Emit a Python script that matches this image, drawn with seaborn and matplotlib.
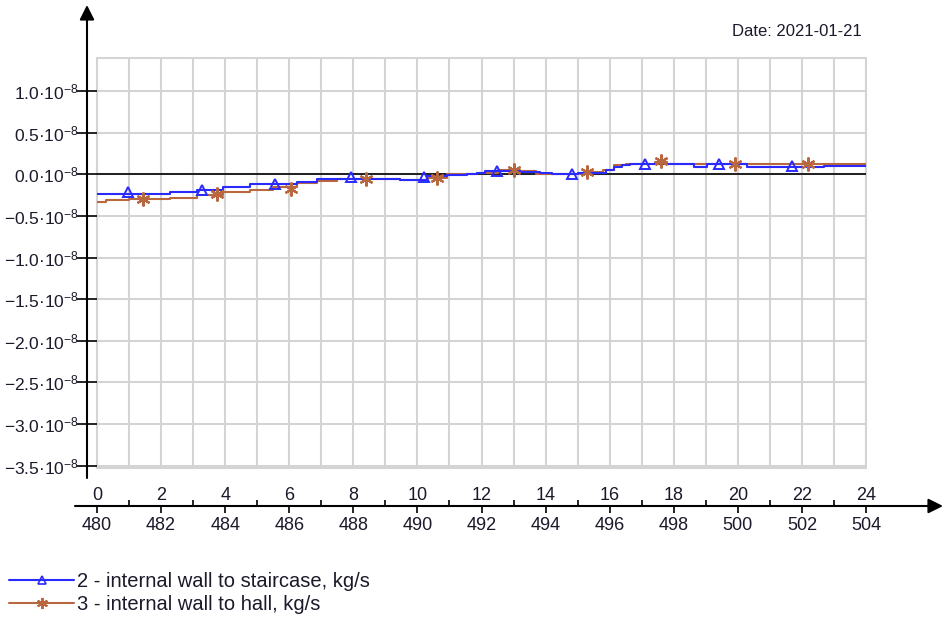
import numpy as np
import pandas as pd
import matplotlib
matplotlib.use("Agg")
import matplotlib.pyplot as plt
import seaborn as sns
from matplotlib.lines import Line2D
from matplotlib.patches import Rectangle
import matplotlib.transforms as mtransforms

# ---------------- data (values in units of 1e-8 kg/s) ----------------
start_hour = 480
hour_ticks = list(range(0, 25, 2))
y_ticks = [-3.5, -3.0, -2.5, -2.0, -1.5, -1.0, -0.5, 0.0, 0.5, 1.0]

stair_hours = [0, 2.28, 3.11, 3.94, 4.78, 5.5, 6.23, 6.86, 9.46, 10.29, 10.91,
               11.54, 11.85, 12.1, 13.2, 13.83, 14.2, 15.0, 15.9, 16.12, 16.4,
               16.64, 18.62, 19.04, 20.29, 22.68, 24]
stair_vals = [-0.24, -0.21, -0.19, -0.15, -0.12, -0.11, -0.09, -0.06, -0.07, -0.02, -0.01,
              0.0, 0.02, 0.04, 0.035, 0.02, 0.01, 0.02, 0.05, 0.09, 0.11,
              0.12, 0.09, 0.12, 0.09, 0.10, 0.10]
stair_mark_hours = [0.98, 3.28, 5.57, 7.93, 10.2, 12.47, 14.81, 17.1, 19.4, 21.7]
stair_mark_vals = [-0.21, -0.19, -0.12, -0.03, -0.03, 0.04, 0.01, 0.12, 0.12, 0.10]

hall_hours = [0, 0.27, 1.0, 2.28, 3.11, 3.94, 4.78, 5.5, 6.23, 6.86, 7.5, 9.46,
              10.29, 10.91, 11.85, 12.5, 13.2, 13.7, 15.39, 15.8, 16.12, 16.5,
              17.4, 17.8, 22.68, 24]
hall_vals = [-0.33, -0.31, -0.30, -0.28, -0.25, -0.21, -0.19, -0.15, -0.10, -0.08, -0.06, -0.07,
             -0.04, 0.0, 0.02, 0.05, 0.04, 0.01, 0.03, 0.05, 0.11, 0.13,
             0.15, 0.13, 0.12, 0.12]
hall_mark_hours = [1.44, 3.74, 6.05, 8.4, 10.6, 13.0, 15.29, 17.6, 19.9, 22.2]
hall_mark_vals = [-0.30, -0.24, -0.17, -0.05, -0.04, 0.055, 0.03, 0.16, 0.13, 0.12]

stair_label = "2 - internal wall to staircase, kg/s"
hall_label = "3 - internal wall to hall, kg/s"
date_text = "Date: 2021-01-21"

blue = "#2a2aff"
brown = "#b8673f"
grid_gray = "#d4d4d4"
text_col = "#1a1a2a"

# ---------------- style ----------------
sns.set_style("white")
plt.rcParams["font.family"] = ["Liberation Sans", "DejaVu Sans"]
plt.rcParams["mathtext.fontset"] = "custom"
plt.rcParams["mathtext.rm"] = "Liberation Sans"
plt.rcParams["mathtext.it"] = "Liberation Sans"
plt.rcParams["mathtext.default"] = "rm"

W, H = 946, 623
fig = plt.figure(figsize=(W / 100, H / 100), dpi=100)
ax = fig.add_axes([97 / W, 1 - 468 / H, (866 - 97) / W, (468 - 58) / H])

# grid
ax.set_xticks(hour_ticks)
ax.set_xticks([h for h in range(1, 24, 2)], minor=True)
ax.set_yticks(y_ticks)
ax.grid(True, which="both", axis="x", color=grid_gray, lw=1.5, zorder=0)
ax.grid(True, which="major", axis="y", color=grid_gray, lw=1.5, zorder=0)
ax.add_patch(Rectangle((0, 0), 1, 1, transform=ax.transAxes, fill=False,
                       edgecolor=grid_gray, lw=1.5, zorder=0.5, clip_on=False))
ax.axhline(0, color="black", lw=1.2, zorder=1)

# series
sns.lineplot(x=stair_hours, y=stair_vals, drawstyle="steps-post", color=blue,
             lw=1.5, estimator=None, ax=ax, zorder=3)
sns.lineplot(x=hall_hours, y=hall_vals, drawstyle="steps-post", color=brown,
             lw=1.5, estimator=None, ax=ax, zorder=2)
ax.plot(stair_mark_hours, stair_mark_vals, ls="none", marker="^", ms=7,
        mfc="none", mec=blue, mew=1.4, zorder=4)
ax.plot(hall_mark_hours, hall_mark_vals, ls="none", marker=(6, 2, 0), ms=10,
        mec=brown, mew=1.6, zorder=4)

ax.set_xlim(0, 24)
ax.set_ylim(-3.53, 1.40)

for s in ax.spines.values():
    s.set_visible(False)
ax.spines["left"].set_position(("outward", 7.2))
ax.spines["bottom"].set_position(("outward", 27.4))

ax.set_yticklabels([r"$%.1f·10^{-8}$" % v for v in y_ticks])
ax.tick_params(axis="y", left=True, direction="inout", length=14, width=1.2,
               color="black", pad=-1, labelsize=12.5, labelcolor=text_col)
ax.set_xticklabels([str(start_hour + h) for h in hour_ticks])
ax.tick_params(axis="x", which="major", bottom=True, direction="out", length=5,
               width=1.2, color="black", pad=3, labelsize=13, labelcolor=text_col)
ax.tick_params(axis="x", which="minor", bottom=True, direction="in", length=4,
               width=1.2, color="black")

# upper hour labels
trans = mtransforms.blended_transform_factory(ax.transData, ax.transAxes)
for h in hour_ticks:
    ax.text(h, -0.066, str(h), transform=trans, ha="center", va="center",
            fontsize=13, color=text_col)

# axis arrows (figure pixel coords)
ax.annotate("", xy=(87 / W, 1 - 5 / H), xytext=(87 / W, 1 - 478 / H),
            xycoords="figure fraction", textcoords="figure fraction",
            arrowprops=dict(arrowstyle="-|>", color="black", lw=1.5,
                            mutation_scale=22, shrinkA=0, shrinkB=0))
ax.annotate("", xy=(943 / W, 1 - 506 / H), xytext=(75 / W, 1 - 506 / H),
            xycoords="figure fraction", textcoords="figure fraction",
            arrowprops=dict(arrowstyle="-|>", color="black", lw=1.5,
                            mutation_scale=22, shrinkA=0, shrinkB=0))

fig.text(797 / W, 1 - 32 / H, date_text, ha="center", va="center",
         fontsize=12, color=text_col)

handles = [
    Line2D([], [], color=blue, lw=1.5, marker="^", ms=6, mfc="none", mec=blue, mew=1.2),
    Line2D([], [], color=brown, lw=1.5, marker=(6, 2, 0), ms=8, mec=brown, mew=1.4),
]
fig.legend(handles, [stair_label, hall_label], loc="upper left",
           bbox_to_anchor=(9 / W, 1 - 572 / H), frameon=False, fontsize=14.5,
           handlelength=3.25, handletextpad=0.15, labelspacing=0.2,
           borderpad=0, borderaxespad=0, numpoints=1, labelcolor=text_col)

fig.savefig("out.png", dpi=100)
